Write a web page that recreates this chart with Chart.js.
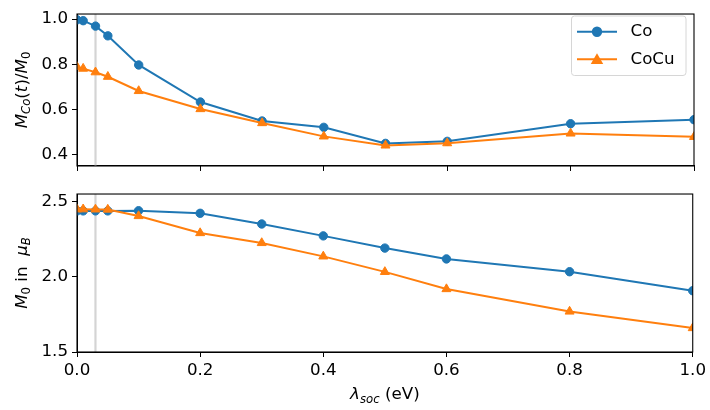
<!DOCTYPE html>
<html>
<head>
<meta charset="utf-8">
<script src="https://cdn.jsdelivr.net/npm/chart.js@4.4.1/dist/chart.umd.min.js"></script>
<style>
  html, body { margin: 0; padding: 0; background: #fff; }
  #wrap { position: relative; width: 710px; height: 410px; overflow: hidden; }
  canvas { position: absolute; left: 0; }
  #ratioChart { top: 0; }
  #momentChart { top: 180px; }
</style>
</head>
<body>
<div id="wrap">
  <canvas id="ratioChart" width="710" height="180"></canvas>
  <canvas id="momentChart" width="710" height="230"></canvas>
</div>
<script>
// Spin-orbit coupling strength (eV)
const lambdaSoc  = [0, 0.01, 0.03, 0.05, 0.1, 0.2, 0.3, 0.4, 0.5, 0.6, 0.8, 1.0];
// Remaining Co moment relative to its initial value
const ratioCo    = [0.997, 0.993, 0.969, 0.926, 0.797, 0.633, 0.549, 0.521, 0.450, 0.459, 0.537, 0.555];
const ratioCoCu  = [0.789, 0.781, 0.765, 0.745, 0.682, 0.602, 0.540, 0.481, 0.441, 0.451, 0.494, 0.479];
// Initial moment M0 in Bohr magnetons
const momentCo   = [2.437, 2.437, 2.437, 2.437, 2.438, 2.421, 2.350, 2.271, 2.190, 2.118, 2.033, 1.907];
const momentCoCu = [2.448, 2.448, 2.447, 2.446, 2.403, 2.290, 2.224, 2.135, 2.032, 1.918, 1.769, 1.659];

const xTicks      = [0, 0.2, 0.4, 0.6, 0.8, 1.0];
const ratioTicks  = [0.4, 0.6, 0.8, 1.0];
const momentTicks = [1.5, 2.0, 2.5];
const markedLambda = 0.03;

const BLUE = '#1f77b4';
const ORANGE = '#ff7f0e';
const FONT = "'DejaVu Sans', 'Liberation Sans', sans-serif";
const FS = 16.7;
const SUB_FS = 11.7;

Chart.defaults.font.family = FONT;
Chart.defaults.font.size = FS;
Chart.defaults.color = '#000';

const toPoints = (xs, ys) => xs.map((x, i) => ({ x: x, y: ys[i] }));

function series(label, ys, color, style) {
  const tri = style === 'triangle';
  return {
    label: label,
    data: toPoints(lambdaSoc, ys),
    borderColor: color,
    backgroundColor: color,
    borderWidth: 2,
    pointStyle: style,
    pointRadius: tri ? 5.2 : 4.2,
    pointBorderWidth: 1,
    pointBackgroundColor: color,
    pointBorderColor: color,
    tension: 0,
    order: tri ? 1 : 2
  };
}

// Draw a run of text pieces, some italic and/or subscripted, centred at (x, y)
function drawRich(ctx, parts, x, y, rotate) {
  const fontOf = p => (p.it ? 'italic ' : '') + (p.sub ? SUB_FS : FS) + 'px ' + FONT;
  ctx.save();
  ctx.translate(x, y);
  if (rotate) ctx.rotate(-Math.PI / 2);
  ctx.textBaseline = 'alphabetic';
  ctx.textAlign = 'left';
  ctx.fillStyle = '#000';
  const widths = parts.map(p => { ctx.font = fontOf(p); return ctx.measureText(p.t).width; });
  let cx = -widths.reduce((a, b) => a + b, 0) / 2;
  parts.forEach((p, i) => {
    ctx.font = fontOf(p);
    ctx.fillText(p.t, cx, p.sub ? 3.5 : 0);
    cx += widths[i];
  });
  ctx.restore();
}

// Frame, marker line at lambda = 0.03, axis titles and legend
const decorations = {
  id: 'decorations',
  beforeDatasetsDraw(chart) {
    const { ctx, chartArea: a, scales } = chart;
    const px = scales.x.getPixelForValue(markedLambda);
    ctx.save();
    ctx.strokeStyle = 'rgba(204,204,204,0.85)';
    ctx.lineWidth = 2.2;
    ctx.beginPath();
    ctx.moveTo(px, a.top);
    ctx.lineTo(px, a.bottom);
    ctx.stroke();
    ctx.restore();
  },
  afterDraw(chart, args, opts) {
    const { ctx, chartArea: a } = chart;
    ctx.save();
    ctx.strokeStyle = '#000';
    ctx.lineWidth = 1.1;
    ctx.strokeRect(a.left, a.top, a.right - a.left, a.bottom - a.top);
    ctx.restore();

    if (opts.yTitle) drawRich(ctx, opts.yTitle, 26.5, (a.top + a.bottom) / 2, true);
    if (opts.xTitle) drawRich(ctx, opts.xTitle, (a.left + a.right) / 2, opts.xTitleY, false);

    if (opts.legend) {
      const bx = 571.5, by = 16, bw = 114.5, bh = 59.5, r = 3;
      ctx.save();
      ctx.beginPath();
      ctx.moveTo(bx + r, by);
      ctx.arcTo(bx + bw, by, bx + bw, by + bh, r);
      ctx.arcTo(bx + bw, by + bh, bx, by + bh, r);
      ctx.arcTo(bx, by + bh, bx, by, r);
      ctx.arcTo(bx, by, bx + bw, by, r);
      ctx.closePath();
      ctx.fillStyle = 'rgba(255,255,255,0.8)';
      ctx.fill();
      ctx.strokeStyle = '#d6d6d6';
      ctx.lineWidth = 1;
      ctx.stroke();
      const rows = [
        { label: 'Co', color: BLUE, style: 'circle', r: 4.2, y: 31.7 },
        { label: 'CoCu', color: ORANGE, style: 'triangle', r: 5.2, y: 59.3 }
      ];
      rows.forEach(row => {
        ctx.strokeStyle = row.color;
        ctx.lineWidth = 2;
        ctx.beginPath();
        ctx.moveTo(577, row.y);
        ctx.lineTo(617, row.y);
        ctx.stroke();
        ctx.fillStyle = row.color;
        Chart.helpers.drawPoint(ctx, {
          pointStyle: row.style, radius: row.r, borderWidth: 1, rotation: 0
        }, 597, row.style === 'triangle' ? row.y + 1.2 : row.y);
        ctx.fillStyle = '#000';
        ctx.font = FS + 'px ' + FONT;
        ctx.textBaseline = 'middle';
        ctx.textAlign = 'left';
        ctx.fillText(row.label, 630.5, row.y);
      });
      ctx.restore();
    }
  }
};

function xScale(showLabels, height) {
  return {
    type: 'linear',
    min: 0,
    max: 1,
    afterBuildTicks: s => { s.ticks = xTicks.map(v => ({ value: v })); },
    afterFit: s => { s.height = height; },
    ticks: {
      autoSkip: false,
      maxRotation: 0,
      padding: 4,
      callback: v => showLabels ? v.toFixed(1) : ''
    },
    grid: { drawOnChartArea: false, drawTicks: true, tickLength: 5, tickColor: '#000', tickWidth: 1 },
    border: { display: true, color: '#000', width: 1 }
  };
}

function yScale(min, max, tickValues) {
  return {
    type: 'linear',
    min: min,
    max: max,
    afterBuildTicks: s => { s.ticks = tickValues.map(v => ({ value: v })); },
    afterFit: s => { s.width = 77; },
    ticks: { padding: 4, callback: v => Number(v).toFixed(1) },
    grid: { drawOnChartArea: false, drawTicks: true, tickLength: 5, tickColor: '#000', tickWidth: 1 },
    border: { display: true, color: '#000', width: 1 }
  };
}

const common = {
  responsive: false,
  animation: false,
  devicePixelRatio: 1,
  events: []
};

new Chart(document.getElementById('ratioChart'), {
  type: 'line',
  data: {
    datasets: [
      series('Co', ratioCo, BLUE, 'circle'),
      series('CoCu', ratioCoCu, ORANGE, 'triangle')
    ]
  },
  options: Object.assign({}, common, {
    layout: { padding: { top: 7, right: 16, left: 0, bottom: 0 } },
    scales: { x: xScale(false, 14), y: yScale(0.35, 1.0225, ratioTicks) },
    plugins: {
      legend: { display: false },
      tooltip: { enabled: false },
      decorations: {
        yTitle: [
          { t: 'M', it: true }, { t: 'Co', it: true, sub: true },
          { t: '(' }, { t: 't', it: true }, { t: ')/' },
          { t: 'M', it: true }, { t: '0', sub: true }
        ],
        legend: true
      }
    }
  }),
  plugins: [decorations]
});

new Chart(document.getElementById('momentChart'), {
  type: 'line',
  data: {
    datasets: [
      series('Co', momentCo, BLUE, 'circle'),
      series('CoCu', momentCoCu, ORANGE, 'triangle')
    ]
  },
  options: Object.assign({}, common, {
    layout: { padding: { top: 13, right: 16, left: 0, bottom: 0 } },
    scales: { x: xScale(true, 58), y: yScale(1.5, 2.549, momentTicks) },
    plugins: {
      legend: { display: false },
      tooltip: { enabled: false },
      decorations: {
        yTitle: [
          { t: 'M', it: true }, { t: '0', sub: true },
          { t: ' in  ' }, { t: 'μ', it: true }, { t: 'B', it: true, sub: true }
        ],
        xTitle: [
          { t: 'λ', it: true }, { t: 'soc', it: true, sub: true }, { t: ' (eV)' }
        ],
        xTitleY: 219
      }
    }
  }),
  plugins: [decorations]
});
</script>
</body>
</html>
